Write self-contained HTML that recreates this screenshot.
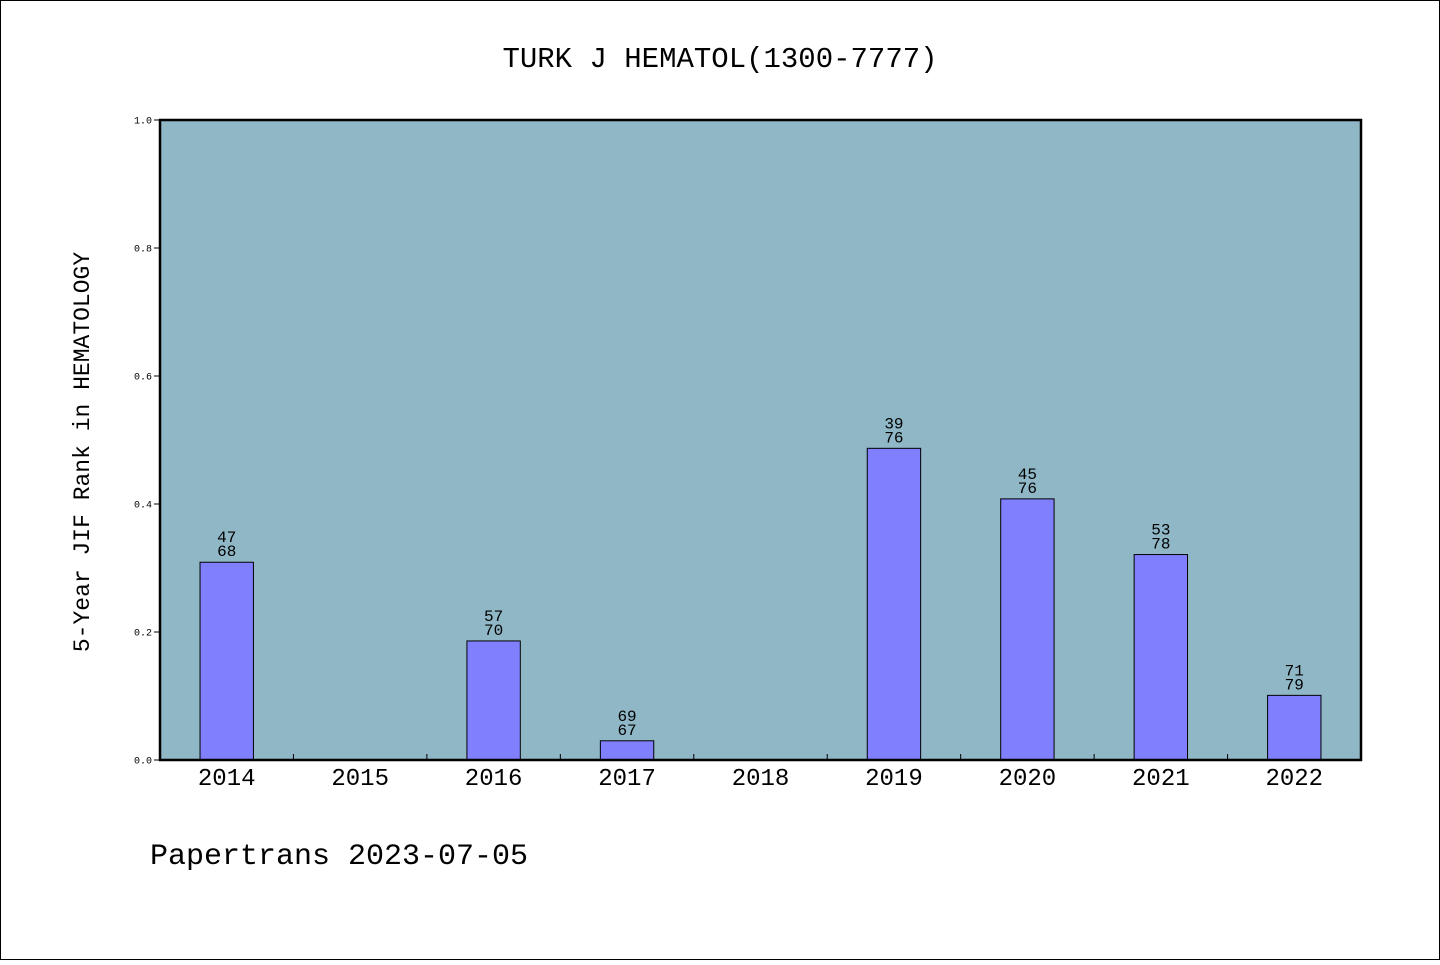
<!DOCTYPE html>
<html><head><meta charset="utf-8"><style>
html,body{margin:0;padding:0;background:#fff}
svg text{font-family:"Liberation Mono","DejaVu Sans Mono",monospace;fill:#000}
</style></head><body>
<svg id="chart" width="1440" height="960" xmlns="http://www.w3.org/2000/svg">
<rect x="0.5" y="0.5" width="1439" height="959" fill="#fff" stroke="#000"/>
<text x="720" y="67" font-size="29" text-anchor="middle">TURK J HEMATOL(1300-7777)</text>
<rect x="160" y="120" width="1201" height="640" fill="#8fb7c6"/>
<g id="bars"></g>
<g id="axes"></g>
<rect x="160" y="120" width="1201" height="640" fill="none" stroke="#000" stroke-width="2.5"/>
<text transform="translate(89,452) rotate(-90)" font-size="23" text-anchor="middle">5-Year JIF Rank in HEMATOLOGY</text>
<text x="150" y="864" font-size="30">Papertrans 2023-07-05</text>
</svg>
<script>
const categories=["2014","2015","2016","2017","2018","2019","2020","2021","2022"];
const values=[0.309,null,0.186,0.03,null,0.487,0.408,0.321,0.101];
const ranks=["47",null,"57","69",null,"39","45","53","71"];
const totals=["68",null,"70","67",null,"76","76","78","79"];
const yTicks=[0,0.2,0.4,0.6,0.8,1.0];
const yTickLabels=["0.0","0.2","0.4","0.6","0.8","1.0"];
const NS="http://www.w3.org/2000/svg";
const X0=160,X1=1361,Y0=760,Y1=120;
const band=(X1-X0)/categories.length;
const xc=i=>X0+band*(i+0.5);
const y=v=>Y0-(Y0-Y1)*v;
function mk(t,a,p){const e=document.createElementNS(NS,t);for(const k in a)e.setAttribute(k,a[k]);p.appendChild(e);return e;}
const gb=document.getElementById('bars'),ga=document.getElementById('axes');
const bw=band*0.4;
categories.forEach((c,i)=>{
  const lab=mk('text',{x:xc(i),y:785,'font-size':24,'text-anchor':'middle'},ga);
  
  
  lab.textContent=c;
  if(i>0){const t=mk('line',{x1:X0+band*i,x2:X0+band*i,y1:Y0,y2:Y0-6,stroke:'#000'},ga);
    
    }
  const v=values[i];if(v==null)return;
  const r=mk('rect',{x:xc(i)-bw/2,y:y(v),width:bw,height:Y0-y(v),fill:'#8080ff',stroke:'#000','stroke-width':1},gb);
  
  
  const t1=mk('text',{x:xc(i),y:y(v)-20,'font-size':16,'text-anchor':'middle'},gb);
  
  
  t1.textContent=ranks[i];
  const t2=mk('text',{x:xc(i),y:y(v)-6,'font-size':16,'text-anchor':'middle'},gb);
  
  
  t2.textContent=totals[i];
});
yTicks.forEach((v,i)=>{
  const l=mk('line',{x1:X0-6,x2:X0,y1:y(v),y2:y(v),stroke:'#000'},ga);
  
  
  const t=mk('text',{x:X0-8,y:y(v)+3.5,'font-size':10,'text-anchor':'end'},ga);
  
  
  t.textContent=yTickLabels[i];
});
</script>
</body></html>
